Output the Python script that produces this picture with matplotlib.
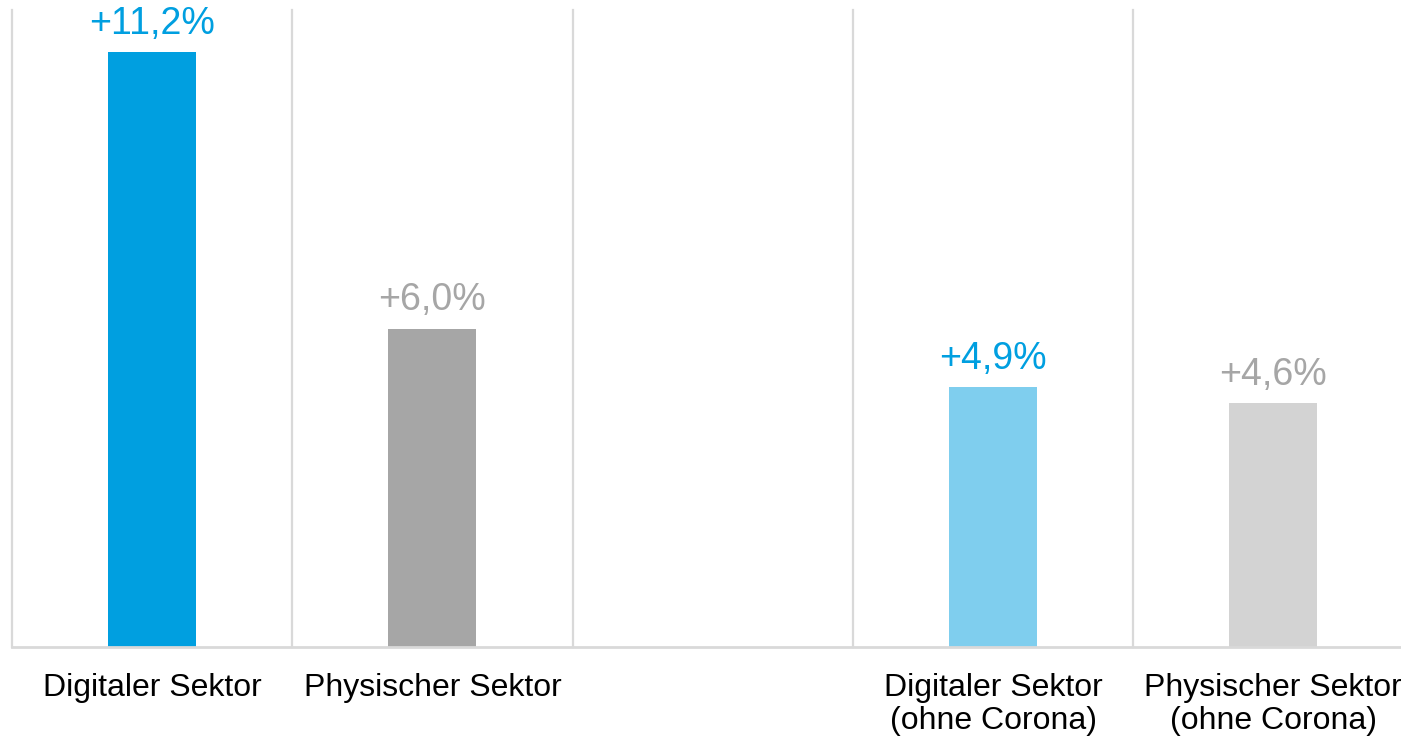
import matplotlib
matplotlib.use('Agg')
import matplotlib.pyplot as plt
import numpy as np

# Daten aus dem Bild
categories = ['Digitaler Sektor', 'Physischer Sektor', '',
              'Digitaler Sektor\n(ohne Corona)', 'Physischer Sektor\n(ohne Corona)']
values = [11.2, 6.0, None, 4.9, 4.6]
labels = ['+11,2%', '+6,0%', '', '+4,9%', '+4,6%']
bar_colors = ['#009FE0', '#A6A6A6', 'none', '#7FCEEE', '#D3D3D3']
text_colors = ['#009FE0', '#A6A6A6', 'none', '#009FE0', '#A6A6A6']

plt.rcParams['font.family'] = ['Liberation Sans', 'DejaVu Sans']

fig = plt.figure(figsize=(14.01, 7.39), dpi=100)
ax = fig.add_axes([12 / 1401, 92 / 739, 1401.5 / 1401, 637 / 739])

x = np.arange(len(categories))
for i, v in enumerate(values):
    if v is None:
        continue
    ax.bar(x[i], v, width=0.314, color=bar_colors[i], zorder=2)
    ax.annotate(labels[i], (x[i], v), xytext=(0, 13), textcoords='offset points',
                ha='center', va='baseline', fontsize=27, color=text_colors[i])

ax.set_xlim(-0.5, len(categories) - 0.5)
ax.set_ylim(0, 12)

# vertikale Trennlinien + Grundlinie
for b in np.arange(-0.5, len(categories), 1.0):
    ax.axvline(b, color='#D9D9D9', lw=1.6, zorder=1, clip_on=False)
ax.axhline(0, color='#D9D9D9', lw=2.0, zorder=3, clip_on=False)

for s in ax.spines.values():
    s.set_visible(False)
ax.set_yticks([])
ax.set_xticks(x)
ax.set_xticklabels(categories, fontsize=23, linespacing=1.13)
ax.tick_params(axis='x', length=0, pad=19)

fig.savefig('out.png', dpi=100)
